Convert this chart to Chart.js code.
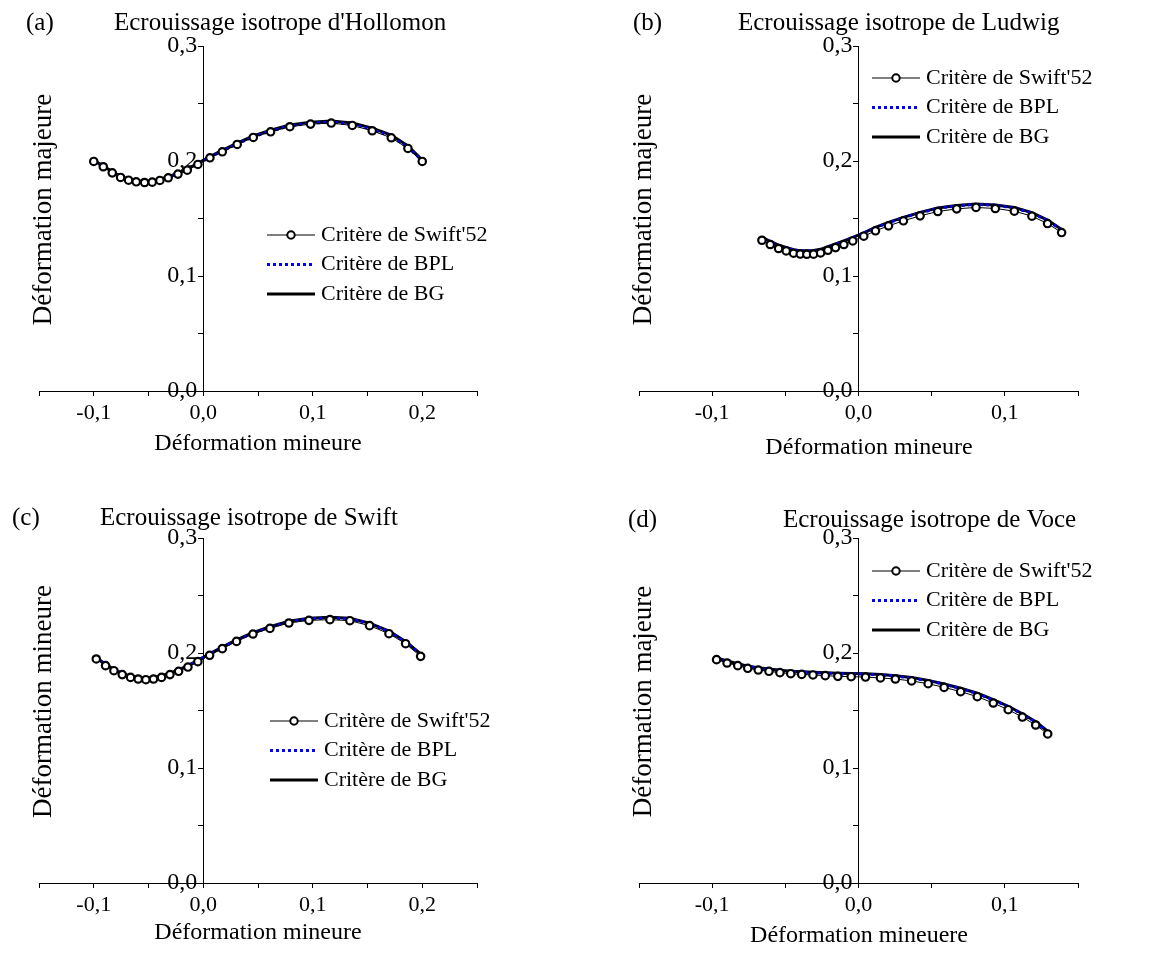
<!DOCTYPE html>
<html>
<head>
<meta charset="utf-8">
<script src="https://cdn.jsdelivr.net/npm/chart.js@4.4.0/dist/chart.umd.min.js"></script>
<style>
  body { margin: 0; background: #fff; }
  #wrap { position: relative; width: 1149px; height: 953px; }
  .panel { position: absolute; }
</style>
</head>
<body>
<div id="wrap">
  <div class="panel" style="left:0;top:0"><canvas id="chA" width="575" height="476"></canvas></div>
  <div class="panel" style="left:575px;top:0"><canvas id="chB" width="574" height="476"></canvas></div>
  <div class="panel" style="left:0;top:476px"><canvas id="chC" width="575" height="477"></canvas></div>
  <div class="panel" style="left:575px;top:476px"><canvas id="chD" width="574" height="477"></canvas></div>
</div>
<script>
// series names
const seriesNames = ["Critère de Swift'52", 'Critère de BPL', 'Critère de BG'];

// (a) Hollomon
const holloX = [-0.1, -0.0913, -0.0831, -0.0755, -0.0682, -0.0612, -0.0536, -0.0466, -0.0396, -0.032, -0.0231, -0.0146, -0.0049, 0.0061, 0.0174, 0.031, 0.0457, 0.0615, 0.0791, 0.098, 0.1169, 0.1361, 0.1543, 0.1717, 0.1869, 0.2];
const holloSwift = [0.1996, 0.195, 0.1897, 0.1857, 0.1833, 0.1819, 0.1813, 0.1816, 0.1831, 0.1854, 0.1886, 0.192, 0.197, 0.2028, 0.208, 0.2144, 0.2205, 0.2254, 0.2298, 0.2321, 0.233, 0.2309, 0.2263, 0.2202, 0.2109, 0.1996];
const holloBPL = [0.2, 0.1955, 0.1902, 0.1862, 0.1838, 0.1824, 0.1818, 0.1821, 0.1836, 0.1859, 0.1891, 0.1925, 0.1975, 0.2033, 0.2086, 0.215, 0.2211, 0.226, 0.2305, 0.2329, 0.2338, 0.232, 0.2275, 0.2213, 0.212, 0.2002];
const holloBG = [0.2003, 0.1958, 0.1906, 0.1866, 0.1842, 0.1828, 0.1822, 0.1825, 0.184, 0.1863, 0.1895, 0.1929, 0.1979, 0.2038, 0.2092, 0.2156, 0.2218, 0.2268, 0.2313, 0.2338, 0.2348, 0.2331, 0.2286, 0.2225, 0.2132, 0.2008];

// (b) Ludwig
const ludwigX = [-0.066, -0.0603, -0.0546, -0.0494, -0.0444, -0.0398, -0.0353, -0.0307, -0.0259, -0.0209, -0.0157, -0.01, -0.0039, 0.0036, 0.0116, 0.0205, 0.0307, 0.0421, 0.0542, 0.0671, 0.0803, 0.0935, 0.1065, 0.1185, 0.1292, 0.1388];
const ludwigSwift = [0.1311, 0.1274, 0.1239, 0.1218, 0.1198, 0.1191, 0.1189, 0.119, 0.1201, 0.1224, 0.1247, 0.1274, 0.1305, 0.1346, 0.1393, 0.1436, 0.148, 0.1523, 0.1561, 0.1584, 0.1596, 0.1587, 0.1564, 0.152, 0.1456, 0.1378];
const ludwigBPL = [0.1333, 0.1298, 0.1265, 0.1245, 0.1226, 0.1217, 0.1216, 0.1218, 0.1229, 0.1251, 0.1275, 0.1302, 0.1333, 0.1373, 0.142, 0.1463, 0.1507, 0.155, 0.1588, 0.1611, 0.1623, 0.1615, 0.1592, 0.1548, 0.1483, 0.1402];
const ludwigBG = [0.1335, 0.1301, 0.1268, 0.1248, 0.1229, 0.122, 0.1219, 0.1221, 0.1232, 0.1254, 0.1278, 0.1305, 0.1336, 0.1376, 0.1423, 0.1466, 0.151, 0.1553, 0.1591, 0.1614, 0.1626, 0.1618, 0.1595, 0.1551, 0.1486, 0.1405];

// (c) Swift
const swiftX = [-0.0977, -0.0892, -0.0816, -0.074, -0.0664, -0.0594, -0.0524, -0.0454, -0.0381, -0.0304, -0.0225, -0.014, -0.0049, 0.0058, 0.0174, 0.0304, 0.0454, 0.0609, 0.0782, 0.0965, 0.1157, 0.1339, 0.1519, 0.1696, 0.1848, 0.1985];
const swiftSwift = [0.1948, 0.189, 0.1846, 0.1812, 0.1788, 0.1774, 0.1768, 0.1774, 0.1788, 0.1812, 0.1841, 0.1878, 0.1925, 0.198, 0.2038, 0.2101, 0.2165, 0.2214, 0.2261, 0.2284, 0.229, 0.2281, 0.2238, 0.2168, 0.2081, 0.1971];
const swiftBPL = [0.1957, 0.19, 0.1855, 0.182, 0.1796, 0.1782, 0.1777, 0.1783, 0.1797, 0.1821, 0.185, 0.1887, 0.1934, 0.1989, 0.2048, 0.211, 0.2174, 0.2224, 0.2272, 0.2297, 0.2305, 0.2297, 0.2255, 0.2185, 0.2097, 0.1988];
const swiftBG = [0.196, 0.1903, 0.1858, 0.1823, 0.1799, 0.1785, 0.178, 0.1786, 0.18, 0.1824, 0.1853, 0.189, 0.1937, 0.1992, 0.2051, 0.2114, 0.2178, 0.2228, 0.2276, 0.2302, 0.231, 0.2302, 0.226, 0.219, 0.2101, 0.1992];

// (d) Voce
const voceX = [-0.097, -0.0898, -0.0825, -0.0757, -0.0685, -0.0612, -0.0537, -0.0463, -0.0388, -0.0311, -0.0227, -0.0141, -0.005, 0.0048, 0.015, 0.0252, 0.0363, 0.0476, 0.0585, 0.0698, 0.0812, 0.0921, 0.1023, 0.112, 0.1211, 0.1293];
const voceSwift = [0.1942, 0.1913, 0.189, 0.1867, 0.1852, 0.1841, 0.1829, 0.182, 0.1814, 0.1809, 0.1803, 0.1797, 0.1794, 0.1791, 0.1783, 0.1774, 0.1757, 0.1733, 0.1701, 0.1664, 0.162, 0.1565, 0.1507, 0.1443, 0.1374, 0.1296];
const voceBPL = [0.1954, 0.1927, 0.1904, 0.1883, 0.1868, 0.1857, 0.1847, 0.1839, 0.1833, 0.1829, 0.1825, 0.1821, 0.1819, 0.1816, 0.1809, 0.18, 0.1783, 0.1759, 0.1728, 0.1691, 0.1647, 0.1592, 0.1534, 0.1469, 0.1399, 0.1317];
const voceBG = [0.1956, 0.193, 0.1907, 0.1886, 0.1871, 0.186, 0.185, 0.1842, 0.1836, 0.1832, 0.1828, 0.1824, 0.1822, 0.1819, 0.1812, 0.1803, 0.1786, 0.1762, 0.1731, 0.1694, 0.165, 0.1595, 0.1537, 0.1472, 0.1402, 0.132];

const FONT = "'Liberation Serif', 'Times New Roman', serif";

// tick labels with comma decimal, only every 0.1
function fmtTick(v) {
    const k = Math.round(v * 20);
    if (k % 2 !== 0) return '';
    return (k / 20).toFixed(1).replace('.', ',');
}

function pts(xs, ys) {
    return xs.map((x, i) => ({ x: x, y: ys[i] }));
}

// titles, axis names and legend drawn by hand
const panelText = {
    id: 'panelText',
    afterLayout(chart) {
        // the y axis sits at x = 0: move its labels a bit off the axis line
        chart.scales.y.getLabelItems().forEach(it => { it.options.translation[0] -= 6; });
    },
    afterDraw(chart, args, o) {
        const ctx = chart.ctx;
        const ca = chart.chartArea;
        ctx.save();
        ctx.fillStyle = '#000';
        ctx.font = '25px ' + FONT;
        ctx.textBaseline = 'alphabetic';
        ctx.textAlign = 'left';
        ctx.fillText(o.letter, o.letterX, o.titleY);
        ctx.fillText(o.title, o.titleX, o.titleY);

        ctx.font = '24px ' + FONT;
        ctx.textBaseline = 'middle';
        ctx.textAlign = 'center';
        ctx.fillText(o.xTitle, o.xTitleX, o.xTitleY);

        ctx.save();
        ctx.font = '27px ' + FONT;
        ctx.translate(ca.left + 5, (ca.top + ca.bottom) / 2 - 9);
        ctx.rotate(-Math.PI / 2);
        ctx.fillText(o.yTitle, 0, 0);
        ctx.restore();

        // legend
        ctx.font = '22px ' + FONT;
        ctx.textAlign = 'left';
        const x0 = o.legX, w = 48;
        seriesNames.forEach((name, i) => {
            const y = o.legY + i * 29.5;
            ctx.save();
            if (i === 0) {
                ctx.strokeStyle = '#000';
                ctx.lineWidth = 1;
                ctx.beginPath(); ctx.moveTo(x0, y); ctx.lineTo(x0 + w, y); ctx.stroke();
                ctx.fillStyle = '#fff';
                ctx.lineWidth = 2;
                ctx.beginPath(); ctx.arc(x0 + w / 2, y, 3.7, 0, Math.PI * 2); ctx.fill(); ctx.stroke();
            } else if (i === 1) {
                ctx.strokeStyle = '#0000ff';
                ctx.lineWidth = 3;
                ctx.setLineDash([3, 3]);
                ctx.beginPath(); ctx.moveTo(x0, y); ctx.lineTo(x0 + w, y); ctx.stroke();
            } else {
                ctx.strokeStyle = '#000';
                ctx.lineWidth = 3;
                ctx.beginPath(); ctx.moveTo(x0, y); ctx.lineTo(x0 + w, y); ctx.stroke();
            }
            ctx.restore();
            ctx.fillStyle = '#000';
            ctx.fillText(name, x0 + w + 6, y);
        });
        ctx.restore();
    }
};

function makeChart(id, xs, sw, bpl, bg, p) {
    const axisBase = {
        type: 'linear',
        ticks: { stepSize: 0.05, autoSkip: false, maxRotation: 0, color: '#000',
                 font: { family: FONT, size: 22 }, callback: fmtTick },
        grid: { display: true, drawOnChartArea: false, drawTicks: true, tickLength: 5, color: '#000', lineWidth: 1 },
        border: { display: true, color: '#000', width: 1 },
        title: { display: false }
    };
    return new Chart(document.getElementById(id), {
        type: 'line',
        data: {
            datasets: [
                { label: seriesNames[0], data: pts(xs, sw), borderColor: '#000', borderWidth: 1,
                  pointRadius: 3.7, pointBorderWidth: 2.2, pointBorderColor: '#000', pointBackgroundColor: '#fff', tension: 0 },
                { label: seriesNames[1], data: pts(xs, bpl), borderColor: '#0000ff', borderWidth: 3,
                  borderDash: [3, 3], pointRadius: 0, tension: 0 },
                { label: seriesNames[2], data: pts(xs, bg), borderColor: '#000', borderWidth: 3,
                  pointRadius: 0, tension: 0 }
            ]
        },
        options: {
            responsive: false,
            animation: false,
            events: [],
            layout: { padding: { left: p.pad[0], top: p.pad[1], right: p.pad[2], bottom: 0 } },
            plugins: {
                legend: { display: false },
                tooltip: { enabled: false },
                title: { display: false },
                panelText: p
            },
            scales: {
                x: Object.assign({}, axisBase, {
                    position: 'bottom', min: -0.15, max: p.xMax,
                    ticks: Object.assign({}, axisBase.ticks, { padding: 4 }),
                    afterFit: s => { s.height = p.axisH; }
                }),
                y: Object.assign({}, axisBase, {
                    position: { x: 0 }, min: 0, max: 0.3,
                    ticks: Object.assign({}, axisBase.ticks, { font: { family: FONT, size: 24 } })
                })
            }
        },
        plugins: [panelText]
    });
}

makeChart('chA', holloX, holloSwift, holloBPL, holloBG, {
    pad: [39, 46, 98], axisH: 85, xMax: 0.25,
    letter: '(a)', letterX: 26, title: "Ecrouissage isotrope d'Hollomon", titleX: 114, titleY: 30,
    xTitle: 'Déformation mineure', xTitleX: 258, xTitleY: 444, yTitle: 'Déformation majeure',
    legX: 267, legY: 235
});
makeChart('chB', ludwigX, ludwigSwift, ludwigBPL, ludwigBG, {
    pad: [64, 46, 71], axisH: 85, xMax: 0.15,
    letter: '(b)', letterX: 58, title: 'Ecrouissage isotrope de Ludwig', titleX: 163, titleY: 30,
    xTitle: 'Déformation mineure', xTitleX: 294, xTitleY: 448, yTitle: 'Déformation majeure',
    legX: 297, legY: 78
});
makeChart('chC', swiftX, swiftSwift, swiftBPL, swiftBG, {
    pad: [39, 62, 98], axisH: 70, xMax: 0.25,
    letter: '(c)', letterX: 12, title: 'Ecrouissage isotrope de Swift', titleX: 100, titleY: 49,
    xTitle: 'Déformation mineure', xTitleX: 258, xTitleY: 457, yTitle: 'Déformation mineure',
    legX: 270, legY: 245
});
makeChart('chD', voceX, voceSwift, voceBPL, voceBG, {
    pad: [64, 62, 71], axisH: 70, xMax: 0.15,
    letter: '(d)', letterX: 53, title: 'Ecrouissage isotrope de Voce', titleX: 208, titleY: 51,
    xTitle: 'Déformation mineuere', xTitleX: 284, xTitleY: 460, yTitle: 'Déformation majeure',
    legX: 297, legY: 95
});
</script>
</body>
</html>
